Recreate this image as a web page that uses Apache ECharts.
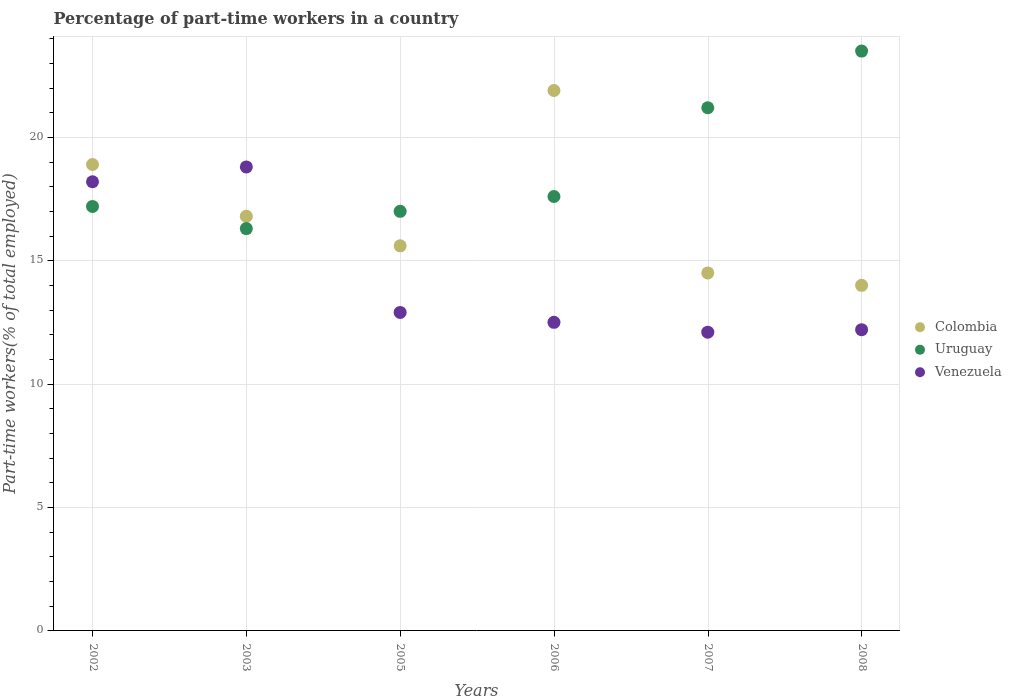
<!DOCTYPE html>
<html><head><meta charset="utf-8">
<script src="https://cdn.jsdelivr.net/npm/echarts@6/dist/echarts.min.js"></script>
<style>html,body{margin:0;padding:0;background:#fff}#c{width:1011px;height:700px}</style>
</head><body><div id="c"></div>
<script>
const years = ['2002','2003','2005','2006','2007','2008'];
const colombia = [18.9,16.8,15.6,21.9,14.5,14.0];
const uruguay = [17.2,16.3,17.0,17.6,21.2,23.5];
const venezuela = [18.2,18.8,12.9,12.5,12.1,12.2];
const yTicks = [0,5,10,15,20];
const F = '"DejaVu Serif"';
const idx = years.map((_,i)=>i);
const pts = a => a.map((v,i)=>[i,v]);
const mk = (name,data,color)=>({name,type:'scatter',data:pts(data),symbol:'circle',symbolSize:13,
  itemStyle:{color,opacity:1},emphasis:{disabled:true}});
const chart = echarts.init(document.getElementById('c'),null,{renderer:'canvas'});
chart.setOption({
  animation:false,
  backgroundColor:'#fff',
  title:{text:'Percentage of part-time workers in a country',left:53.5,top:12,padding:[0,0,0,0],
    textStyle:{fontFamily:F,fontSize:16,fontWeight:'bold',color:'#444'}},
  legend:{orient:'vertical',left:915,top:319,padding:0,itemWidth:10,itemHeight:10,itemGap:6,icon:'circle',
    textStyle:{fontFamily:F,fontSize:13,color:'#555',padding:[0,0,0,5],height:16.5,lineHeight:16.5},
    data:['Colombia','Uruguay','Venezuela']},
  grid:{left:53.5,right:111.5,top:36.5,bottom:69.5,show:true,borderColor:'#e5e5e5',borderWidth:1,containLabel:false,outerBoundsMode:'none'},
  xAxis:{type:'value',min:-0.2536,max:5.2464,interval:1,
    name:'Years',nameLocation:'middle',nameGap:53,
    nameTextStyle:{fontFamily:F,fontSize:16,fontStyle:'italic',color:'#555'},
    axisLine:{show:true,onZero:false,lineStyle:{color:'#000',width:1}},
    axisTick:{show:true,length:6,lineStyle:{color:'#000'},customValues:idx},
    axisLabel:{rotate:-90,fontFamily:F,fontSize:11,color:'#666',margin:13,customValues:idx,
      formatter:v=>years[v]??''},
    splitLine:{show:true,lineStyle:{color:'#e5e5e5',width:1}}},
  yAxis:{type:'value',min:0,max:24.09,interval:5,
    name:'Part-time workers(% of total employed)',nameLocation:'middle',nameGap:29,
    nameTextStyle:{fontFamily:F,fontSize:16,fontStyle:'italic',color:'#555'},
    axisLine:{show:true,onZero:false,lineStyle:{color:'#000',width:1}},
    axisTick:{show:true,length:6,lineStyle:{color:'#000'},customValues:yTicks},
    minorTick:{show:true,splitNumber:5,length:4,lineStyle:{color:'#000'}},
    axisLabel:{fontFamily:F,fontSize:11,color:'#666',margin:10,customValues:yTicks},
    splitLine:{show:true,lineStyle:{color:'#e5e5e5',width:1}}},
  series:[mk('Colombia',colombia,'#bdb76b'),mk('Uruguay',uruguay,'#2e8b57'),mk('Venezuela',venezuela,'#663399')]
});
</script></body></html>
